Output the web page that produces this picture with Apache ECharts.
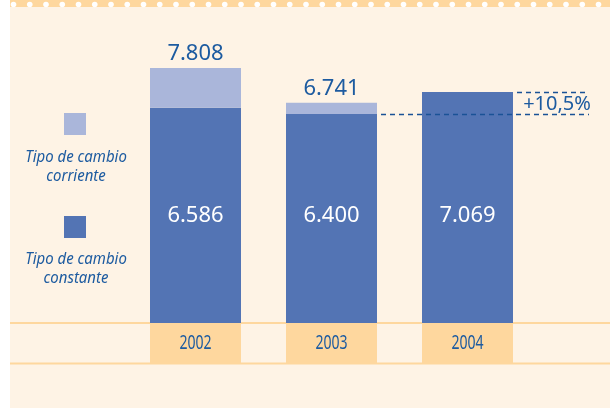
<!DOCTYPE html>
<html>
<head>
<meta charset="utf-8">
<script src="https://cdn.jsdelivr.net/npm/echarts@6/dist/echarts.min.js"></script>
<style>
  html, body { margin: 0; padding: 0; background: #fff; }
  #chart { width: 610px; height: 408px; }
</style>
</head>
<body>
<div id="chart"></div>
<script>
// datos
const years = ["2002", "2003", "2004"];
const constante = [6586, 6400, 7069];   // tipo de cambio constante
const corriente = [7808, 6741, null];   // tipo de cambio corriente (total)
const variacion = "+10,5%";
const legendNames = ["Tipo de cambio\ncorriente", "Tipo de cambio\nconstante"];

const BLUE = "#5374b4";
const LIGHT = "#aab6da";
const TEXT = "#1d5ba0";
const PEACH = "#fed79e";
const CREAM = "#fef3e5";
const BAR_W = 91;

// puntos con separador de miles
const fmt = v => String(v).replace(/\B(?=(\d{3})+(?!\d))/g, ".");

// parte superior de la barra = corriente - constante
const extra = corriente.map((v, i) => (v == null ? "-" : v - constante[i]));

// líneas de referencia 2003 -> 2004
const guides = [[1, constante[1]], [2, constante[2]]];

const chart = echarts.init(document.getElementById("chart"));

// fondo + franja de puntos
const deco = [
  { type: "rect", z: -10, shape: { x: 10, y: 0, width: 600, height: 408 }, style: { fill: CREAM } },
  { type: "rect", z: -9, shape: { x: 10, y: 0, width: 600, height: 7 }, style: { fill: PEACH } },
  { type: "line", z: -8, shape: { x1: 10, y1: 323, x2: 610, y2: 323 }, style: { stroke: PEACH, lineWidth: 2 } },
  { type: "line", z: -8, shape: { x1: 10, y1: 363.5, x2: 610, y2: 363.5 }, style: { stroke: PEACH, lineWidth: 2 } }
];
for (let x = 13.5; x < 605; x += 16.25) {
  deco.push({ type: "circle", z: -8, shape: { cx: x, cy: 4.5, r: 2.8 }, style: { fill: "#fff" } });
}

// leyenda
const legendItems = [
  { color: LIGHT, y: 113, ty: 166.5, text: legendNames[0] },
  { color: BLUE, y: 216, ty: 269, text: legendNames[1] }
];
legendItems.forEach(l => {
  deco.push({ type: "rect", shape: { x: 64, y: l.y, width: 22, height: 22 }, style: { fill: l.color } });
  deco.push({
    type: "text", x: 76, y: l.ty, scaleX: 0.88,
    style: {
      text: l.text, fill: TEXT, font: "italic 17px 'Noto Sans', sans-serif",
      align: "center", verticalAlign: "middle", lineHeight: 19
    }
  });
});

deco.push({
  type: "text", x: 557, y: 104,
  style: { text: variacion, fill: TEXT, font: "20px 'Noto Sans', sans-serif", align: "center", verticalAlign: "middle" }
});

// casilla del año bajo cada barra
function renderYear(params, api) {
  const p = api.coord([api.value(0), 0]);
  return {
    type: "group",
    children: [
      { type: "rect", shape: { x: p[0] - BAR_W / 2, y: p[1], width: BAR_W, height: 40 }, style: { fill: PEACH } },
      {
        type: "text", x: p[0], y: p[1] + 21, scaleX: 0.74,
        style: {
          text: years[params.dataIndex], fill: TEXT, font: "19px 'Noto Sans', sans-serif",
          align: "center", verticalAlign: "middle"
        }
      }
    ]
  };
}

// línea discontinua desde el borde derecho de la barra
function renderGuide(params, api) {
  const p = api.coord([api.value(0), api.value(1)]);
  const y = Math.round(p[1]) + 0.5;
  return {
    type: "line",
    shape: { x1: p[0] + BAR_W / 2 + 4, y1: y, x2: api.getWidth() - 21, y2: y },
    style: { stroke: "#1a5296", lineWidth: 1.3, lineDash: [5, 4] }
  };
}

chart.setOption({
  animation: false,
  backgroundColor: "#fff",
  grid: { left: 127.5, width: 408, top: 29, height: 294 },
  xAxis: {
    type: "category",
    data: years,
    axisLine: { show: false },
    axisTick: { show: false },
    axisLabel: { show: false }
  },
  yAxis: { type: "value", min: 0, max: 9000, show: false, splitLine: { show: false } },
  series: [
    {
      name: "Tipo de cambio constante",
      type: "bar",
      stack: "total",
      barWidth: BAR_W,
      data: constante,
      itemStyle: { color: BLUE },
      label: {
        show: true,
        position: "insideBottom",
        distance: 96,
        color: "#fff",
        fontSize: 22,
        fontFamily: "'Noto Sans', sans-serif",
        formatter: p => fmt(p.value)
      }
    },
    {
      name: "Tipo de cambio corriente",
      type: "bar",
      stack: "total",
      barWidth: BAR_W,
      data: extra,
      itemStyle: { color: LIGHT },
      label: {
        show: true,
        position: "top",
        distance: 3,
        color: TEXT,
        fontSize: 22,
        fontFamily: "'Noto Sans', sans-serif",
        formatter: p => (corriente[p.dataIndex] == null ? "" : fmt(corriente[p.dataIndex]))
      }
    },
    {
      type: "custom",
      clip: false,
      silent: true,
      data: years.map((y, i) => [i]),
      renderItem: renderYear
    },
    {
      type: "custom",
      clip: false,
      silent: true,
      z: 10,
      data: guides,
      renderItem: renderGuide
    }
  ],
  graphic: deco
});
</script>
</body>
</html>
